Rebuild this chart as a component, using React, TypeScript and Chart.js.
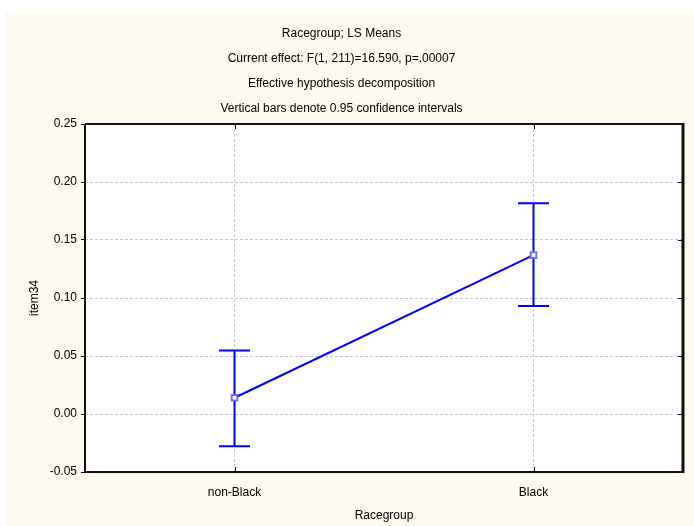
import React, { useEffect, useRef } from "react";
import { Chart, registerables } from "chart.js";

Chart.register(...registerables);

const titleLines = [
  "Racegroup; LS Means",
  "Current effect: F(1, 211)=16.590, p=.00007",
  "Effective hypothesis decomposition",
  "Vertical bars denote 0.95 confidence intervals",
];
const categories = ["non-Black", "Black"];
const means = [0.014, 0.137];
const lowerCI = [-0.0278, 0.0931];
const upperCI = [0.0548, 0.1816];
const yTicks = [-0.05, 0.0, 0.05, 0.1, 0.15, 0.2, 0.25];
const xTitle = "Racegroup";
const yTitle = "item34";

const FONT = "'Liberation Sans', Arial, sans-serif";

const framePlugin = {
  id: "frame",
  beforeDraw(chart: any) {
    const { ctx, chartArea } = chart;
    ctx.save();
    ctx.fillStyle = "#ffffff";
    ctx.fillRect(0, 0, chart.width, chart.height);
    ctx.fillStyle = "#fffaf0";
    ctx.fillRect(5, 12, chart.width - 5, chart.height - 12);
    ctx.fillStyle = "#ffffff";
    ctx.fillRect(chartArea.left, chartArea.top, chartArea.right - chartArea.left, chartArea.bottom - chartArea.top);
    ctx.restore();
  },
  beforeDatasetsDraw(chart: any) {
    const { ctx } = chart;
    const xs = chart.scales.x;
    const ys = chart.scales.y;
    ctx.save();
    ctx.strokeStyle = "#0000ff";
    ctx.lineWidth = 2;
    const cap = 15.5;
    for (let i = 0; i < categories.length; i++) {
      const x = xs.getPixelForValue(i);
      const yl = ys.getPixelForValue(lowerCI[i]);
      const yu = ys.getPixelForValue(upperCI[i]);
      ctx.beginPath();
      ctx.moveTo(x, yl);
      ctx.lineTo(x, yu);
      ctx.moveTo(x - cap, yl);
      ctx.lineTo(x + cap, yl);
      ctx.moveTo(x - cap, yu);
      ctx.lineTo(x + cap, yu);
      ctx.stroke();
    }
    ctx.restore();
  },
  afterDraw(chart: any) {
    const { ctx, chartArea } = chart;
    const { left, top, right, bottom } = chartArea;
    const xs = chart.scales.x;
    const ys = chart.scales.y;
    ctx.save();
    ctx.strokeStyle = "#000000";
    ctx.lineWidth = 1;
    ctx.beginPath();
    for (let i = 0; i < categories.length; i++) {
      const x = Math.round(xs.getPixelForValue(i)) + 0.5;
      ctx.moveTo(x, top);
      ctx.lineTo(x, top + 5);
      ctx.moveTo(x, bottom);
      ctx.lineTo(x, bottom - 5);
    }
    for (const v of yTicks) {
      const y = Math.round(ys.getPixelForValue(v)) + 0.5;
      ctx.moveTo(right, y);
      ctx.lineTo(right - 5, y);
    }
    ctx.stroke();
    ctx.lineWidth = 2;
    ctx.strokeStyle = "#111111";
    ctx.beginPath();
    ctx.moveTo(left, top);
    ctx.lineTo(right, top);
    ctx.moveTo(left, top);
    ctx.lineTo(left, bottom);
    ctx.moveTo(left, bottom);
    ctx.lineTo(right, bottom);
    ctx.stroke();
    ctx.lineWidth = 3;
    ctx.beginPath();
    ctx.moveTo(right, top - 1);
    ctx.lineTo(right, bottom + 1);
    ctx.stroke();
    ctx.restore();
  },
};

export default function App() {
  const ref = useRef<HTMLCanvasElement | null>(null);
  useEffect(() => {
    if (!ref.current) return;
    const chart = new Chart(ref.current, {
      type: "line",
      data: {
        labels: categories,
        datasets: [
          {
            data: means,
            borderColor: "#0000ff",
            borderWidth: 2,
            pointStyle: "rect",
            pointRadius: 4,
            pointBorderWidth: 2,
            pointBorderColor: "#7070ff",
            pointBackgroundColor: "#ffffff",
            tension: 0,
          },
        ],
      },
      options: {
        responsive: false,
        animation: false,
        layout: { padding: { left: 0, right: 11, top: 0, bottom: 0 } },
        plugins: {
          legend: { display: false },
          tooltip: { enabled: false },
          title: {
            display: true,
            text: titleLines,
            color: "#000000",
            font: { family: FONT, size: 12, weight: "normal", lineHeight: 25 / 12 },
            padding: { top: 21.5, bottom: 2.5 },
          },
        },
        scales: {
          x: {
            type: "category",
            offset: true,
            afterFit(scale: any) {
              scale.height = 54;
            },
            grid: {
              offset: false,
              display: true,
              drawTicks: false,
              color: "#c8c8c8",
              lineWidth: 1,
            },
            border: { display: false, dash: [3, 2] },
            ticks: {
              color: "#000000",
              font: { family: FONT, size: 12 },
              padding: 13,
            },
            title: {
              display: true,
              text: xTitle,
              color: "#000000",
              font: { family: FONT, size: 12 },
              padding: { top: 0, bottom: 2.8 },
            },
          },
          y: {
            min: -0.05,
            max: 0.25,
            afterFit(scale: any) {
              scale.width = 85;
            },
            afterBuildTicks(scale: any) {
              scale.ticks = yTicks.map((v) => ({ value: v }));
            },
            grid: {
              color: "#c8c8c8",
              lineWidth: 1,
              drawTicks: true,
              tickLength: 4,
              tickColor: "#000000",
              tickWidth: 1,
            },
            border: { display: false, dash: [3, 2] },
            ticks: {
              color: "#000000",
              font: { family: FONT, size: 12 },
              padding: 4,
              callback: (v: any) => Number(v).toFixed(2),
            },
            title: {
              display: true,
              text: yTitle,
              color: "#000000",
              font: { family: FONT, size: 12 },
              padding: { top: 27.8, bottom: 0 },
            },
          },
        },
      },
      plugins: [framePlugin],
    });
    return () => chart.destroy();
  }, []);
  return (
    <div style={{ position: "absolute", left: 0, top: 0, width: 694, height: 526 }}>
      <canvas ref={ref} width={694} height={526} style={{ display: "block" }} />
    </div>
  );
}
